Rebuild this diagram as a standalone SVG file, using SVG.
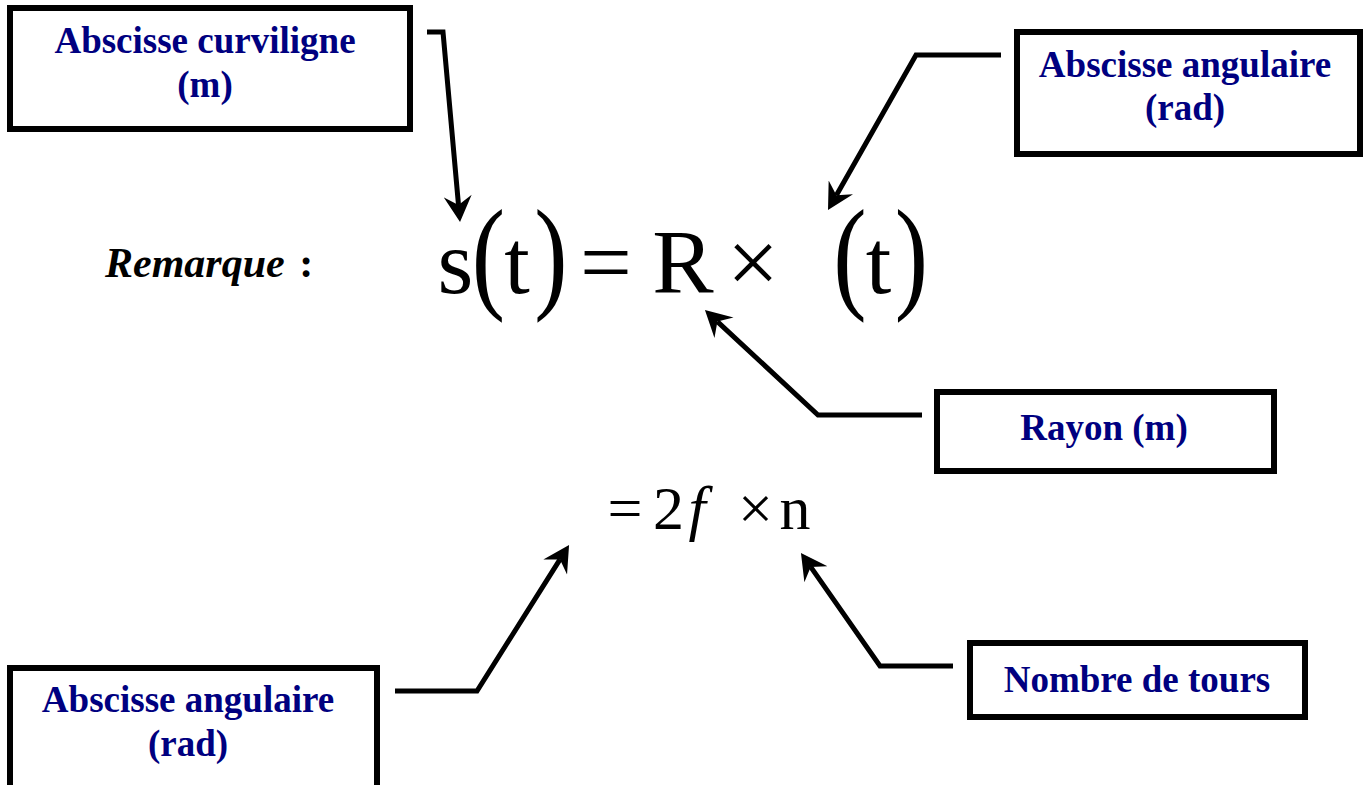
<svg xmlns="http://www.w3.org/2000/svg" width="1363" height="785" viewBox="0 0 1363 785">
<defs>
<style>
.box{fill:#fff;stroke:#000;stroke-width:6}
.lbl{font-weight:bold;font-size:37px;fill:#000080;text-anchor:middle}
.conn{fill:none;stroke:#000;stroke-width:5;stroke-linejoin:miter;marker-end:url(#ah)}
.m{font-size:92px;fill:#000;text-anchor:middle}
.p{font-size:100px;fill:#000;text-anchor:middle}
.m2{font-size:62px;fill:#000;text-anchor:middle}
</style>
<marker id="ah" markerUnits="userSpaceOnUse" markerWidth="28" markerHeight="28" viewBox="0 0 26 28" refX="9" refY="14" orient="auto">
<path d="M0,0 L26,14 L0,28 L9,14 z" fill="#000"/>
</marker>
</defs>
<rect width="1363" height="785" fill="#fff"/>

<g id="connectors">
<path class="conn" d="M427,32 L443,32 L458.5,205"/>
<path class="conn" d="M1001,55 L916,55 L836.4,195.2"/>
<path class="conn" d="M922,415 L818,415 L717.4,321.6"/>
<path class="conn" d="M395,691 L477,691 L560,559.4"/>
<path class="conn" d="M953,666 L880,666 L810.7,566.9"/>
</g>

<g font-family="Liberation Serif, Times New Roman, serif">
<g id="node-curviligne">
<rect class="box" x="10" y="8" width="400" height="121"/>
<text class="lbl" x="205" y="53">Abscisse curviligne</text>
<text class="lbl" x="205" y="97">(m)</text>
</g>

<g id="node-angulaire-top">
<rect class="box" x="1017" y="32" width="343" height="122"/>
<text class="lbl" x="1185" y="77">Abscisse angulaire</text>
<text class="lbl" x="1185" y="120">(rad)</text>
</g>

<g id="node-rayon">
<rect class="box" x="937" y="392" width="337" height="79"/>
<text class="lbl" x="1104" y="440">Rayon (m)</text>
</g>

<g id="node-tours">
<rect class="box" x="970" y="643" width="335" height="74"/>
<text class="lbl" x="1137" y="692">Nombre de tours</text>
</g>

<g id="node-angulaire-bottom">
<rect class="box" x="10" y="668" width="367" height="130"/>
<text class="lbl" x="188" y="712">Abscisse angulaire</text>
<text class="lbl" x="188" y="756">(rad)</text>
</g>

<g id="remarque">
<text x="105" y="277" font-size="42" font-weight="bold" fill="#000"><tspan font-style="italic">Remarque</tspan><tspan dx="4"> :</tspan></text>
</g>

<g id="formula-1">
<text class="m" x="455.5" y="293">s</text>
<text class="p" transform="translate(488.5,296) scale(1.0,1.26)">(</text>
<text class="m" x="517" y="293">t</text>
<text class="p" transform="translate(551,296) scale(1.0,1.26)">)</text>
<text class="m" x="606" y="293">=</text>
<text class="m" x="683" y="293">R</text>
<text class="m" x="753" y="293">×</text>
<text class="p" transform="translate(850,296) scale(1.0,1.26)">(</text>
<text class="m" x="878.5" y="293">t</text>
<text class="p" transform="translate(911.5,296) scale(1.0,1.26)">)</text>
</g>

<g id="formula-2">
<text class="m2" x="625" y="529">=</text>
<text class="m2" x="668.5" y="529">2</text>
<text class="m2" x="697" y="529" font-style="italic" font-size="68">f</text>
<text class="m2" x="755.5" y="529">×</text>
<text class="m2" x="795" y="529">n</text>
</g>
</g>
</svg>
